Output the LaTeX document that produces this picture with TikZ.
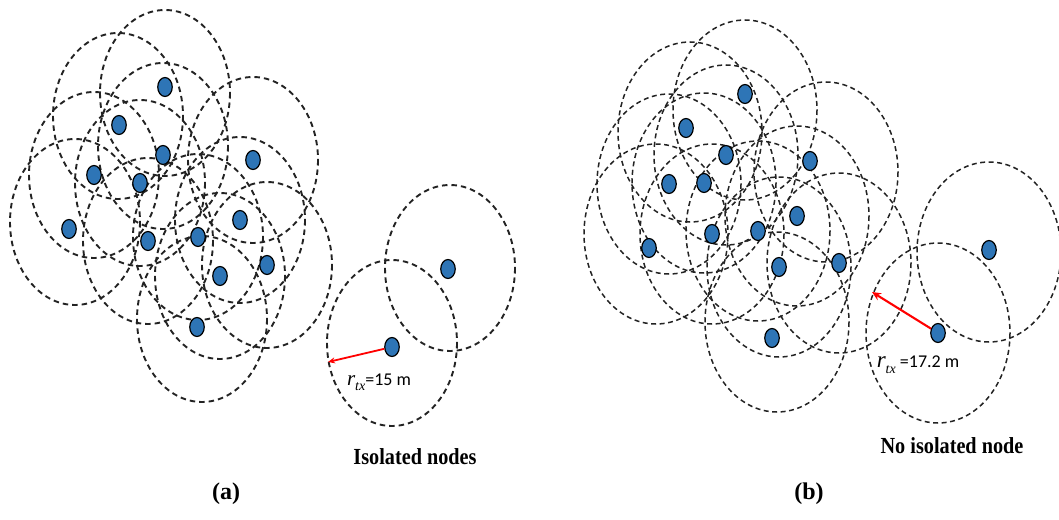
\documentclass[tikz,border=0pt]{standalone}
\usepackage{fontspec}
\setmainfont{Liberation Serif}
\newfontfamily\labfont{Carlito}
\usetikzlibrary{shapes.geometric,arrows.meta}
\definecolor{nodeblue}{RGB}{46,117,182}
\definecolor{rangegray}{RGB}{35,35,35}
\newcommand{\rtx}[1]{{\rmfamily\itshape\fontsize{#1}{#1}\selectfont r\raisebox{-0.25em}{\fontsize{14}{14}\selectfont tx}}}
\begin{document}
\begin{tikzpicture}[x=1pt,y=-1pt,
  sensor/.style={ellipse, draw=black, line width=1.2pt, fill=nodeblue, minimum width=14.5pt, minimum height=19pt, inner sep=0pt},
  rangea/.style={draw=rangegray, line width=1.9pt, dash pattern=on 5.5pt off 4pt},
  rangeb/.style={draw=rangegray, line width=1.5pt, dash pattern=on 5pt off 3.5pt},
  radarrow/.style={draw=red, line width=1.8pt, -{Stealth[length=7pt,width=6pt]}},
  lbl/.style={font=\labfont\fontsize{18}{20}\selectfont, inner sep=0pt},
  caption/.style={font=\bfseries\fontsize{23}{25}\selectfont, inner sep=0pt, xscale=0.88},
  panel/.style={font=\bfseries\fontsize{24}{26}\selectfont, inner sep=0pt},
]
\useasboundingbox (0,0) rectangle (1059,519);

% ---------- panel (a): ranges ----------
\foreach \p in {(165,93),(118,116),(163,146),(94,175),(140,183),(253,160),(75,222),(148,241),(198,237),(240,220),(220,276),(267,265),(202,319),(450,268),(392,343)}
  \draw[rangea] \p ellipse [x radius=65, y radius=83];

% ---------- panel (b): ranges ----------
\foreach \p in {(745,110),(690,132),(726,155),(669,184),(704,183),(826,172),(656,234),(712,234),(758,231),(797,216),(779,267),(839,263),(777,322),(989,252),(938,333)}
  \draw[rangeb] \p ellipse [x radius=72, y radius=90];

% ---------- panel (a): nodes ----------
\node[sensor] (a1) at (165,87) {};
\node[sensor] (a2) at (119,125) {};
\node[sensor] (a3) at (163,155) {};
\node[sensor] (a4) at (94,175) {};
\node[sensor] (a5) at (140,183) {};
\node[sensor] (a6) at (253,160) {};
\node[sensor] (a7) at (69,229) {};
\node[sensor] (a8) at (148,241) {};
\node[sensor] (a9) at (198,237) {};
\node[sensor] (a10) at (240,220) {};
\node[sensor] (a11) at (220,276) {};
\node[sensor] (a12) at (267,265) {};
\node[sensor] (a13) at (197,327) {};
\node[sensor] (a14) at (448,269) {};
\node[sensor] (a15) at (392,347) {};

% ---------- panel (b): nodes ----------
\node[sensor] (b1) at (745,94) {};
\node[sensor] (b2) at (686,128) {};
\node[sensor] (b3) at (726,155) {};
\node[sensor] (b4) at (669,184) {};
\node[sensor] (b5) at (704,183) {};
\node[sensor] (b6) at (810,161) {};
\node[sensor] (b7) at (649,248) {};
\node[sensor] (b8) at (712,234) {};
\node[sensor] (b9) at (758,231) {};
\node[sensor] (b10) at (797,216) {};
\node[sensor] (b11) at (779,267) {};
\node[sensor] (b12) at (839,263) {};
\node[sensor] (b13) at (772,338) {};
\node[sensor] (b14) at (989,250) {};
\node[sensor] (b15) at (938,333) {};

% ---------- radius arrows ----------
\coordinate (ta) at (328,362);
\coordinate (tb) at (872,292);
\draw[radarrow] (a15) -- (ta);
\draw[draw=red, line width=2.1pt, -{Stealth[length=9pt,width=8pt]}] (b15) -- (tb);

% ---------- labels ----------
\node[lbl] (la) at (379,382) {\rtx{21}=15 m};
\node[lbl] (lb) at (918,365) {\rtx{23} =17.2 m};
\node[caption] (ca) at (415,457) {Isolated nodes};
\node[caption] (cb) at (952,446) {No isolated node};
\node[panel] (pa) at (226,494) {(a)};
\node[panel] (pb) at (809,494) {(b)};
\end{tikzpicture}
\end{document}
